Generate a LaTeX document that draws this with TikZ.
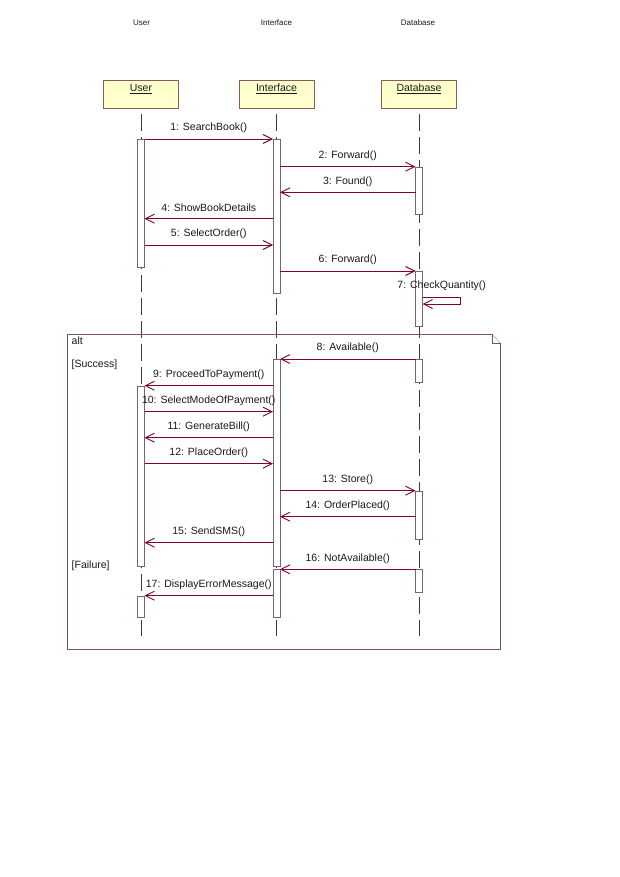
\documentclass[tikz,border=0pt]{standalone}
\usepackage{fontspec}
\setmainfont{Liberation Sans}
\usetikzlibrary{arrows.meta}
\definecolor{msgc}{RGB}{128,0,48}
\definecolor{boxc}{RGB}{140,90,90}
\definecolor{boxf}{RGB}{255,255,204}
\definecolor{barc}{RGB}{128,96,112}
\definecolor{lifec}{RGB}{60,60,60}
\definecolor{framec}{RGB}{128,80,100}
\definecolor{txt}{RGB}{25,25,25}
\tikzset{
  msg/.style={draw=msgc, line width=0.8pt, -{Straight Barb[length=9pt,width=9pt,line width=0.9pt]}},
  lbl/.style={font=\fontsize{10.5}{12}\selectfont, text=txt, inner sep=0pt},
  hdr/.style={font=\fontsize{8}{10}\selectfont, text=txt, inner sep=0pt},
  objbox/.style={draw=boxc, fill=boxf, line width=0.7pt, minimum width=75pt, minimum height=28pt, inner sep=0pt, text height=8pt, text depth=12pt, font=\fontsize{10.5}{12}\selectfont, text=txt},
  bar/.style={draw=barc, fill=white, line width=0.7pt, minimum width=7pt, inner sep=0pt, anchor=north},
  life/.style={draw=lifec, line width=0.6pt, dash pattern=on 17pt off 6pt, dash phase=17pt},
  frm/.style={draw=framec, line width=0.7pt},
  ml/.style={lbl, midway, yshift=11pt}
}
\begin{document}
\begin{tikzpicture}[x=1pt,y=-1pt]
\useasboundingbox (0,0) rectangle (620,877);
% header texts
\node[hdr] (hU) at (141.5,23) {User};
\node[hdr] (hI) at (276.5,23) {Interface};
\node[hdr] (hD) at (418,23) {Database};
% object boxes
\node[objbox] (U) at (141,94) {\underline{User}};
\node[objbox] (I) at (276.5,94) {\underline{Interface}};
\node[objbox] (D) at (419,94) {\underline{Database}};
% lifeline ends
\coordinate (Ue) at (141,636);
\coordinate (Ie) at (276.5,636);
\coordinate (De) at (419,636);
\draw[life] (U.south) -- (Ue);
\draw[life] (I.south) -- (Ie);
\draw[life] (D.south) -- (De);
% alt frame
\coordinate (f1) at (67.3,334.3);
\coordinate (f2) at (492,334.3);
\coordinate (f3) at (500.7,343.3);
\coordinate (f4) at (500.7,649);
\coordinate (f5) at (67.3,649);
\coordinate (f6) at (492,343.3);
\draw[frm] (f3) -- (f4) -- (f5) -- (f1) -- (f2);
\draw[frm, draw=framec!45] (f2) -- (f3);
\draw[frm] (f2) -- (f6) -- (f3);
\node[lbl, anchor=west] (alt) at (71.5,341) {alt};
\node[lbl, anchor=west] (succ) at (71.5,365) {[Success]};
\node[lbl, anchor=west] (fail) at (71.5,565.7) {[Failure]};
% activation bars
\node[bar, minimum height=127.7pt] (bU1) at (141,139) {};
\node[bar, minimum height=180pt] (bU2) at (141,385.7) {};
\node[bar, minimum height=21.6pt] (bU3) at (141,595.7) {};
\node[bar, minimum height=154.3pt] (bI1) at (276.5,139) {};
\node[bar, minimum height=206.7pt] (bI2) at (276.5,359) {};
\node[bar, minimum height=48pt] (bI3) at (276.5,569.3) {};
\node[bar, minimum height=47.3pt] (bD1) at (419,166.7) {};
\node[bar, minimum height=55pt] (bD2) at (419,271) {};
\node[bar, minimum height=22.7pt] (bD3) at (419,359) {};
\node[bar, minimum height=48.6pt] (bD4) at (419,490.7) {};
\node[bar, minimum height=22.4pt] (bD5) at (419,569.3) {};
% message end points
\coordinate (m1a) at (144.5,139);   \coordinate (m1b) at (273,139);
\coordinate (m2a) at (280,166.7);   \coordinate (m2b) at (415.5,166.7);
\coordinate (m3a) at (415.5,192.3); \coordinate (m3b) at (280,192.3);
\coordinate (m4a) at (273,218.7);   \coordinate (m4b) at (144.5,218.7);
\coordinate (m5a) at (144.5,245);   \coordinate (m5b) at (273,245);
\coordinate (m6a) at (280,271);     \coordinate (m6b) at (415.5,271);
\coordinate (m7a) at (422.5,297.7); \coordinate (m7c) at (460,297.7);
\coordinate (m7d) at (460,304);     \coordinate (m7b) at (422.5,304);
\coordinate (m8a) at (415.5,359);   \coordinate (m8b) at (280,359);
\coordinate (m9a) at (273,385.7);   \coordinate (m9b) at (144.5,385.7);
\coordinate (m10a) at (144.5,411.7); \coordinate (m10b) at (273,411.7);
\coordinate (m11a) at (273,437.7);  \coordinate (m11b) at (144.5,437.7);
\coordinate (m12a) at (144.5,463.7); \coordinate (m12b) at (273,463.7);
\coordinate (m13a) at (280,490.7);  \coordinate (m13b) at (415.5,490.7);
\coordinate (m14a) at (415.5,516.7); \coordinate (m14b) at (280,516.7);
\coordinate (m15a) at (273,542.7);  \coordinate (m15b) at (144.5,542.7);
\coordinate (m16a) at (415.5,569.3); \coordinate (m16b) at (280,569.3);
\coordinate (m17a) at (273,595.7);  \coordinate (m17b) at (144.5,595.7);
% messages
\draw[msg] (m1a) -- (m1b) node[ml] (l1) {1: SearchBook()};
\draw[msg] (m2a) -- (m2b) node[ml] (l2) {2: Forward()};
\draw[msg] (m3a) -- (m3b) node[ml] (l3) {3: Found()};
\draw[msg] (m4a) -- (m4b) node[ml] (l4) {4: ShowBookDetails};
\draw[msg] (m5a) -- (m5b) node[ml] (l5) {5: SelectOrder()};
\draw[msg] (m6a) -- (m6b) node[ml] (l6) {6: Forward()};
\draw[msg] (m7a) -- (m7c) -- (m7d) -- (m7b);
\node[lbl] (l7) at (441.7,286) {7: CheckQuantity()};
\draw[msg] (m8a) -- (m8b) node[ml] (l8) {8: Available()};
\draw[msg] (m9a) -- (m9b) node[ml] (l9) {9: ProceedToPayment()};
\draw[msg] (m10a) -- (m10b) node[ml] (l10) {10: SelectModeOfPayment()};
\draw[msg] (m11a) -- (m11b) node[ml] (l11) {11: GenerateBill()};
\draw[msg] (m12a) -- (m12b) node[ml] (l12) {12: PlaceOrder()};
\draw[msg] (m13a) -- (m13b) node[ml] (l13) {13: Store()};
\draw[msg] (m14a) -- (m14b) node[ml] (l14) {14: OrderPlaced()};
\draw[msg] (m15a) -- (m15b) node[ml] (l15) {15: SendSMS()};
\draw[msg] (m16a) -- (m16b) node[ml] (l16) {16: NotAvailable()};
\draw[msg] (m17a) -- (m17b) node[ml] (l17) {17: DisplayErrorMessage()};
\end{tikzpicture}
\end{document}
